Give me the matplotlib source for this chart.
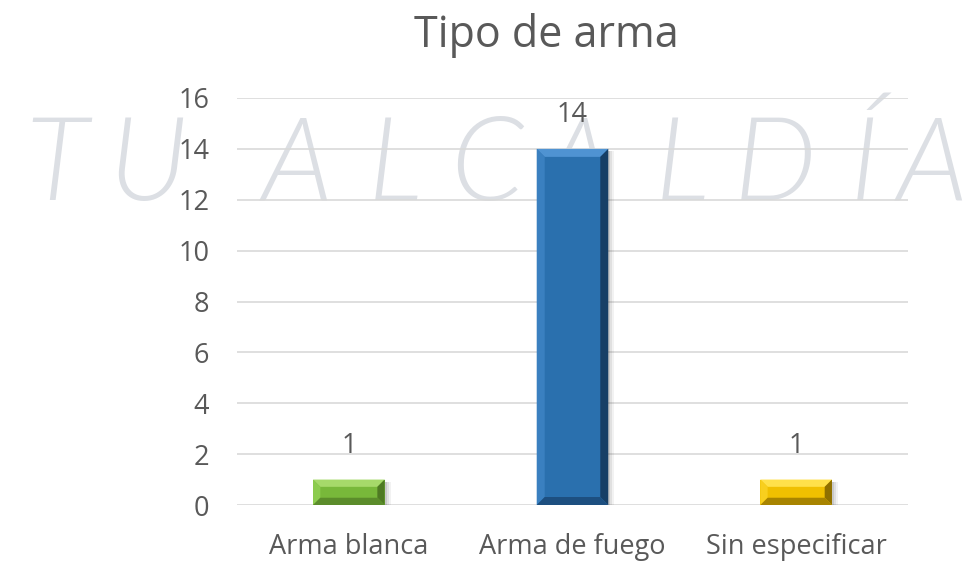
import matplotlib
matplotlib.use("Agg")
import matplotlib.pyplot as plt
from matplotlib.patches import Polygon
import numpy as np

# data
categorias = ["Arma blanca", "Arma de fuego", "Sin especificar"]
valores = [1, 14, 1]
yticks = [0, 2, 4, 6, 8, 10, 12, 14, 16]

# bevel colours per bar: face, top, left, right, bottom
estilos = [
    ("#78b83a", "#a6d96a", "#8ccb4e", "#4f7a23", "#5b8c2b"),
    ("#2a70ae", "#4f93d2", "#3a80c0", "#173f66", "#1d4f80"),
    ("#f0c000", "#ffe14a", "#f8cf1e", "#8f7000", "#a88400"),
]

TXT = "#595959"
plt.rcParams["font.family"] = ["Open Sans", "DejaVu Sans"]

fig = plt.figure(figsize=(9.74, 5.7), dpi=100)

# watermark behind the chart
marca = [("T", 56), ("U", 148), ("A", 297), ("L", 395), ("C", 487),
         ("A", 578), ("L", 682), ("D", 775), ("Í", 864), ("A", 932)]
for letra, xp in marca:
    fig.text(xp / 974, 1 - 200 / 570, letra, ha="center", va="baseline",
             fontsize=84, style="italic", fontweight=300,
             family=["Lato", "Open Sans", "DejaVu Sans"],
             color="#dcdfe4", zorder=-5)

ax = fig.add_axes([237 / 974, 1 - 505 / 570, 671 / 974, 407 / 570])
ax.set_zorder(1)
ax.patch.set_alpha(0)
ax.set_xlim(-0.5, 2.5)
ax.set_ylim(0, 16)
ax.set_yticks(yticks)
ax.set_xticks(range(len(categorias)))
ax.set_xticklabels(categorias)
ax.tick_params(length=0, labelsize=19.5, colors=TXT, pad=20)
ax.yaxis.grid(True, color="#d9d9d9", linewidth=1.2)
ax.set_axisbelow(True)
for s in ax.spines.values():
    s.set_visible(False)

fig.text(546 / 974, 1 - 47 / 570, "Tipo de arma", ha="center", va="baseline",
         fontsize=31, color=TXT)

ancho = 0.32
barras = ax.bar(range(len(categorias)), valores, width=ancho, zorder=3)

toD = ax.transData
inv = toD.inverted()
b = 8  # bevel in px
for rect, est, v in zip(barras, estilos, valores):
    cara, top, izq, der, baj = est
    x0, y0 = toD.transform((rect.get_x(), 0))
    x1, y1 = toD.transform((rect.get_x() + rect.get_width(), rect.get_height()))
    bb = min(b, (y1 - y0) / 3.5)
    # soft shadow
    for k, a in [(6, 0.05), (4, 0.07), (2, 0.10)]:
        pts = inv.transform([(x0 + 2, y0 - k), (x1 + k, y0 - k),
                             (x1 + k, y1 - 2), (x0 + 2, y1 - 2)])
        ax.add_patch(Polygon(pts, closed=True, facecolor="black",
                             alpha=a, edgecolor="none", zorder=2))
    rect.set_facecolor(cara)
    rect.set_edgecolor("none")
    ix0, ix1, iy0, iy1 = x0 + bb, x1 - bb, y0 + bb, y1 - bb
    caras = [
        ([(x0, y1), (x1, y1), (ix1, iy1), (ix0, iy1)], top),
        ([(x0, y0), (x0, y1), (ix0, iy1), (ix0, iy0)], izq),
        ([(x1, y0), (x1, y1), (ix1, iy1), (ix1, iy0)], der),
        ([(x0, y0), (x1, y0), (ix1, iy0), (ix0, iy0)], baj),
    ]
    for pts, col in caras:
        ax.add_patch(Polygon(inv.transform(pts), closed=True,
                             facecolor=col, edgecolor="none", zorder=4))
    ax.annotate(str(v), (rect.get_x() + rect.get_width() / 2, v),
                xytext=(0, 14), textcoords="offset points",
                ha="center", va="bottom", fontsize=19.5, color=TXT)

fig.savefig("out.png", dpi=100)
